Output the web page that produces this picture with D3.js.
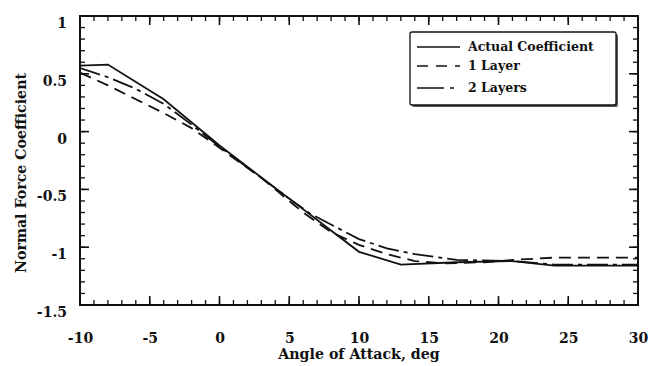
<!DOCTYPE html>
<html>
<head>
<meta charset="utf-8">
<script src="https://cdn.jsdelivr.net/npm/d3@7"></script>
<style>
  body { margin: 0; background: #fff; }
  svg { display: block; }
  .tick text { font-family: "DejaVu Serif", serif; font-weight: bold; font-size: 14px; fill: #111; }
  .title { font-family: "DejaVu Serif", serif; font-weight: bold; font-size: 14.2px; fill: #111; }
  .legend text { font-family: "DejaVu Serif", serif; font-weight: bold; font-size: 12.5px; fill: #111; }
</style>
</head>
<body>
<figure id="chart" style="margin:0"></figure>
<script>
// angle of attack, deg
const actualX = [-10, -8, -4, 0, 5, 10, 13, 17, 21, 24, 30];
const actualY = [0.57, 0.58, 0.28, -0.12, -0.58, -1.04, -1.15, -1.13, -1.12, -1.16, -1.16];

const layer1X = [-10, -8, -6, -4, -2, 0, 3, 6, 8, 10, 12, 14, 16, 19, 21, 24, 30];
const layer1Y = [0.51, 0.40, 0.28, 0.16, 0.03, -0.14, -0.40, -0.70, -0.87, -0.98, -1.06, -1.12, -1.14, -1.13, -1.11, -1.09, -1.09];

const layer2X = [-10, -8, -6, -4, -2, 0, 5, 6.5, 10, 12, 14, 17, 21, 24, 30];
const layer2Y = [0.55, 0.47, 0.37, 0.24, 0.06, -0.13, -0.58, -0.71, -0.93, -1.01, -1.06, -1.11, -1.12, -1.15, -1.15];

const xTicks = [-10, -5, 0, 5, 10, 15, 20, 25, 30];
const yTicks = [1, 0.5, 0, -0.5, -1, -1.5];
const seriesNames = ["Actual Coefficient", "1 Layer", "2 Layers"];

const W = 652, H = 366;
const mLeft = 80, mRight = 638, mTop = 16, mBottom = 305;

const svg = d3.select("figure#chart")
  .append("svg")
  .attr("width", W)
  .attr("height", H);

const x = d3.scaleLinear().domain([-10, 30]).range([mLeft, mRight]);
const y = d3.scaleLinear().domain([-1.5, 1]).range([mBottom, mTop]);

const xMinor = d3.range(-10, 31, 1);
const yMinor = d3.range(-15, 11, 1).map(d => d / 10);

// frame
svg.append("rect")
  .attr("x", mLeft).attr("y", mTop)
  .attr("width", mRight - mLeft).attr("height", mBottom - mTop)
  .attr("fill", "none").attr("stroke", "#111").attr("stroke-width", 2);

// inward tick marks on all four edges, as thin rects placed with the scales
const tk = svg.append("g").attr("fill", "#111");
function xTickMarks(values, len, sw) {
  [mBottom - len, mTop].forEach(y0 => {
    tk.append("g").selectAll("rect").data(values).enter().append("rect")
      .attr("x", d => x(d) - sw / 2).attr("width", sw)
      .attr("y", y0).attr("height", len);
  });
}
function yTickMarks(values, len, sw) {
  [mLeft, mRight - len].forEach(x0 => {
    tk.append("g").selectAll("rect").data(values).enter().append("rect")
      .attr("y", d => y(d) - sw / 2).attr("height", sw)
      .attr("x", x0).attr("width", len);
  });
}
xTickMarks(xMinor, 5, 1.3);
xTickMarks(xTicks, 9, 1.6);
yTickMarks(yMinor, 5, 1.3);
yTickMarks(yTicks, 9, 1.6);

// labels
const xLab = svg.append("g").attr("transform", `translate(0,${mBottom})`)
  .call(d3.axisBottom(x).tickValues(xTicks).tickSize(0).tickPadding(28).tickFormat(d => String(d)));
xLab.select(".domain").remove();

const yLab = svg.append("g").attr("transform", `translate(${mLeft},0)`)
  .call(d3.axisLeft(y).tickValues(yTicks).tickSize(0).tickPadding(13).tickFormat(d => String(d)));
yLab.select(".domain").remove();
yLab.selectAll("text").attr("dy", "0.82em");

// curves
const line = d3.line().x(d => x(d[0])).y(d => y(d[1]));
const series = [
  { pts: d3.zip(actualX, actualY), dash: null },
  { pts: d3.zip(layer1X, layer1Y), dash: "12,7" },
  { pts: d3.zip(layer2X, layer2Y), dash: "21,5,4,5" }
];
svg.selectAll("path.curve")
  .data(series)
  .enter()
  .append("path")
  .attr("class", "curve")
  .attr("d", d => line(d.pts))
  .attr("fill", "none")
  .attr("stroke", "#111")
  .attr("stroke-width", 1.8)
  .attr("stroke-dasharray", d => d.dash);

// axis titles
svg.append("text").attr("class", "title")
  .attr("x", (mLeft + mRight) / 2).attr("y", 359)
  .attr("text-anchor", "middle")
  .text("Angle of Attack, deg");

svg.append("text").attr("class", "title")
  .attr("transform", "translate(26,173) rotate(-90)")
  .attr("text-anchor", "middle")
  .text("Normal Force Coefficient");

// legend
const lg = svg.append("g").attr("class", "legend");
lg.append("rect").attr("x", 412).attr("y", 34).attr("width", 206).attr("height", 73)
  .attr("fill", "#555").attr("rx", 2);
lg.append("rect").attr("x", 410).attr("y", 32).attr("width", 206).attr("height", 73)
  .attr("fill", "#fff").attr("stroke", "#111").attr("stroke-width", 1.3).attr("rx", 2);
const rowY = [47, 66, 88];
seriesNames.forEach((name, i) => {
  lg.append("line")
    .attr("x1", 417).attr("x2", 460)
    .attr("y1", rowY[i]).attr("y2", rowY[i])
    .attr("stroke", "#111").attr("stroke-width", 1.6)
    .attr("stroke-dasharray", i === 0 ? null : (i === 1 ? "11,8" : "27,6,4,20"));
  lg.append("text")
    .attr("x", 468).attr("y", rowY[i])
    .attr("dy", "0.35em")
    .text(name);
});
</script>
</body>
</html>
